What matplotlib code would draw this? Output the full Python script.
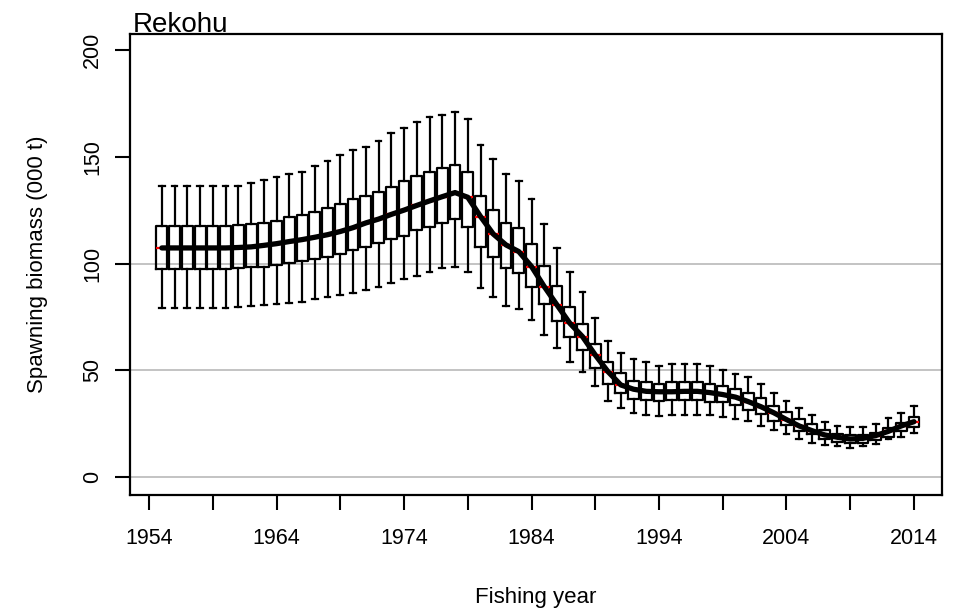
import numpy as np
import matplotlib
matplotlib.use('Agg')
import matplotlib.pyplot as plt

plt.rcParams['font.family'] = ['Liberation Sans', 'DejaVu Sans']

# fishing years with a box each
years = list(range(1955, 2015))

whishi = [136.2, 136.2, 136.2, 136.2, 136.2, 136.2, 136.2, 137.9, 139.1, 140.7,
          141.9, 143.0, 145.7, 148.2, 150.7, 153.2, 154.7, 157.4, 161.0, 163.5,
          166.1, 168.5, 169.5, 171.1, 167.7, 155.5, 148.8, 141.9, 138.7, 130.4,
          118.4, 107.2, 96.2, 86.9, 74.4, 63.9, 58.0, 55.4, 53.8, 52.1,
          52.9, 52.9, 52.9, 52.1, 50.2, 48.5, 47.1, 43.5, 39.6, 35.8,
          32.6, 29.2, 26.0, 24.1, 23.4, 23.4, 24.9, 27.6, 30.2, 33.5]

q3 = [117.6, 117.6, 117.6, 117.6, 117.6, 117.6, 117.8, 118.3, 119.1, 120.1,
      121.9, 122.7, 124.3, 125.9, 127.9, 130.2, 131.8, 133.4, 136.0, 138.7,
      141.1, 143.0, 144.6, 146.1, 143.0, 131.8, 125.1, 119.1, 116.7, 109.2,
      98.9, 89.5, 79.8, 71.7, 62.2, 53.8, 48.7, 45.2, 44.7, 43.5,
      44.4, 44.4, 44.4, 43.5, 42.7, 41.2, 39.3, 37.0, 33.4, 30.7,
      27.1, 24.8, 22.1, 20.3, 19.8, 20.0, 20.9, 22.9, 25.6, 28.1]

med = [107.3, 107.3, 107.3, 107.3, 107.3, 107.3, 107.5, 107.8, 108.5, 109.3,
       110.3, 111.2, 112.3, 113.5, 115.0, 116.8, 119.0, 120.8, 123.0, 125.0,
       127.2, 129.3, 131.3, 133.2, 131.0, 122.0, 113.8, 108.7, 105.6, 98.6,
       89.2, 80.6, 72.1, 65.8, 57.2, 49.4, 43.2, 41.2, 40.2, 40.0,
       40.0, 40.2, 40.2, 39.6, 38.7, 37.5, 35.4, 33.0, 30.2, 27.0,
       24.0, 21.8, 19.8, 18.7, 17.9, 18.2, 19.5, 21.5, 24.0, 26.0]

q1 = [97.3, 97.3, 97.3, 97.3, 97.3, 97.3, 97.8, 98.4, 98.6, 99.2,
      100.4, 101.4, 102.0, 102.9, 104.5, 106.4, 107.9, 109.5, 111.4, 113.1,
      115.6, 117.3, 118.9, 120.7, 117.3, 107.9, 102.9, 97.8, 95.4, 89.2,
      81.0, 73.3, 65.5, 59.6, 51.0, 43.5, 39.3, 36.6, 36.2, 35.7,
      36.2, 36.2, 36.2, 35.4, 35.1, 33.6, 31.5, 29.5, 26.5, 24.5,
      21.8, 20.3, 17.9, 16.7, 15.9, 16.2, 17.5, 19.0, 21.8, 23.7]

whislo = [79.3, 79.3, 79.3, 79.3, 79.3, 79.3, 79.8, 80.2, 80.5, 81.1,
          81.7, 82.0, 83.4, 84.2, 85.2, 86.1, 87.6, 89.2, 91.1, 92.6,
          94.3, 96.2, 97.8, 98.6, 96.2, 88.4, 84.2, 80.2, 78.6, 73.5,
          66.5, 60.7, 53.8, 49.4, 42.7, 35.8, 32.6, 29.9, 29.2, 28.8,
          29.2, 29.2, 29.0, 29.2, 28.4, 27.4, 26.3, 24.0, 22.1, 20.3,
          17.9, 16.2, 15.1, 14.6, 13.6, 14.6, 15.6, 17.8, 18.7, 20.6]

xticks = list(range(1954, 2015, 5))
xticklabels = [str(y) if (y - 1954) % 10 == 0 else '' for y in xticks]
yticks = [0, 50, 100, 150, 200]
gridlines = [0, 50, 100]

stats = []
for i in range(len(years)):
    stats.append({'whislo': whislo[i], 'q1': q1[i], 'med': med[i],
                  'q3': q3[i], 'whishi': whishi[i]})

fig = plt.figure(figsize=(9.54, 6.15), dpi=100)
ax = fig.add_axes([130 / 954, 1 - 495 / 615, 812 / 954, 461 / 615])

for g in gridlines:
    ax.axhline(g, color='#bebebe', lw=1.3, zorder=0)

lw = 1.6
ax.bxp(stats, positions=years, widths=0.85, showfliers=False, capwidths=0.45,
       boxprops=dict(color='black', lw=lw),
       whiskerprops=dict(color='black', lw=lw, linestyle='-'),
       capprops=dict(color='black', lw=lw),
       medianprops=dict(color='red', lw=lw), manage_ticks=False)

ax.plot(years, med, color='black', lw=3.8, zorder=5, solid_capstyle='round')

ax.set_xlim(1952.5, 2016.2)
ax.set_ylim(-8.3, 207.4)
ax.set_xticks(xticks)
ax.set_xticklabels(xticklabels)
ax.set_yticks(yticks)
ax.set_yticklabels([str(v) for v in yticks], rotation=90, va='center')

for s in ax.spines.values():
    s.set_linewidth(1.6)
ax.tick_params(direction='out', length=10.5, width=1.5, labelsize=15.5)
ax.tick_params(axis='x', pad=13)
ax.tick_params(axis='y', pad=9)

fig.text(133 / 954, 1 - 32 / 615, 'Rekohu', fontsize=20, ha='left', va='baseline')
fig.text(536 / 954, 1 - 598 / 615, 'Fishing year', fontsize=16, ha='center', va='center')
fig.text(38 / 954, 1 - 264 / 615, 'Spawning biomass (000 t)', fontsize=16,
         ha='center', va='center', rotation=90)

fig.savefig('out.png', dpi=100)
